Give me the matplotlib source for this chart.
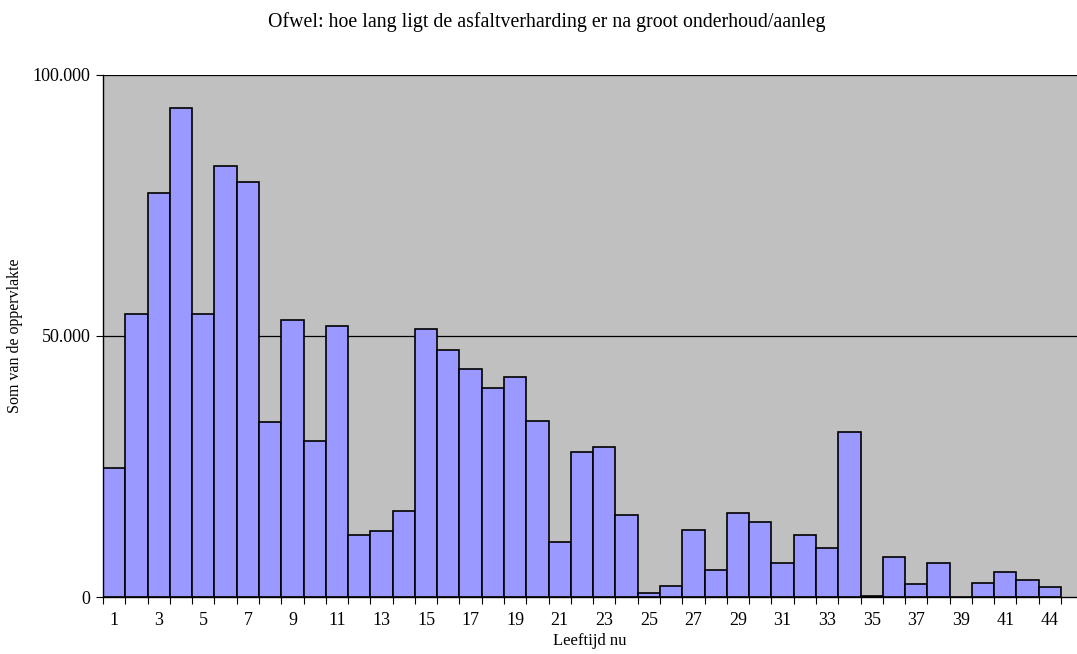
import matplotlib.pyplot as plt
import numpy as np
from matplotlib.ticker import FuncFormatter

# Leeftijd (jaren) en som van de oppervlakte
leeftijd = list(range(1, 43)) + [44]
oppervlakte = [
    24650, 54300, 77300, 93600, 54200, 82600, 79500, 33500, 53100, 29800,
    52000, 11900, 12600, 16500, 51400, 47300, 43700, 40000, 42100, 33800,
    10500, 27800, 28700, 15800, 800, 2200, 12900, 5200, 16100, 14300,
    6600, 11900, 9300, 31600, 250, 7700, 2400, 6600, 0, 2700,
    4700, 3300, 1900,
]
tick_labels = [str(v) if i % 2 == 0 else '' for i, v in enumerate(leeftijd)]

plt.rcParams['font.family'] = ['Liberation Serif', 'DejaVu Serif']

fig = plt.figure(figsize=(10.77, 6.54), dpi=100)
ax = fig.add_axes([103 / 1077, 57 / 654, 1 - 103 / 1077, (597 - 75) / 654])

x = np.arange(len(leeftijd))
ax.set_facecolor('#C0C0C0')
ax.bar(x, oppervlakte, width=1.0, color='#9999FF', edgecolor='black', linewidth=1.2, zorder=3)

ax.set_xlim(-0.5, -0.5 + 974 / 22.28)
ax.set_ylim(0, 100000)

# horizontal gridlines
for y in [50000, 100000]:
    ax.axhline(y, color='black', linewidth=0.9, zorder=1)

ax.set_yticks([0, 50000, 100000])
ax.yaxis.set_major_formatter(FuncFormatter(lambda v, p: f'{int(v):,}'.replace(',', '.')))
ax.tick_params(axis='y', direction='out', length=5, width=0.8, labelsize=13, pad=4)

ax.set_xticks(x)
ax.set_xticklabels(tick_labels, fontsize=13)
ax.set_xticks(np.arange(len(leeftijd) + 1) - 0.5, minor=True)
ax.tick_params(axis='x', which='major', length=0, pad=11)
ax.tick_params(axis='x', which='minor', direction='out', length=5, width=0.8)

for s in ['top', 'right']:
    ax.spines[s].set_visible(False)
ax.spines['left'].set_linewidth(1.0)
ax.spines['bottom'].set_linewidth(1.0)
ax.spines['left'].set_zorder(4)
ax.spines['bottom'].set_zorder(4)

fig.text(15 / 1077, 1 - 336 / 654, 'Som van de oppervlakte', rotation=90,
         ha='center', va='center', fontsize=11.5)
ax.set_xlabel('Leeftijd nu', fontsize=12, labelpad=3)
fig.text(547 / 1077, 1 - 22 / 654, 'Ofwel: hoe lang ligt de asfaltverharding er na groot onderhoud/aanleg',
         ha='center', va='center', fontsize=14.3)

fig.savefig('out.png', dpi=100)
